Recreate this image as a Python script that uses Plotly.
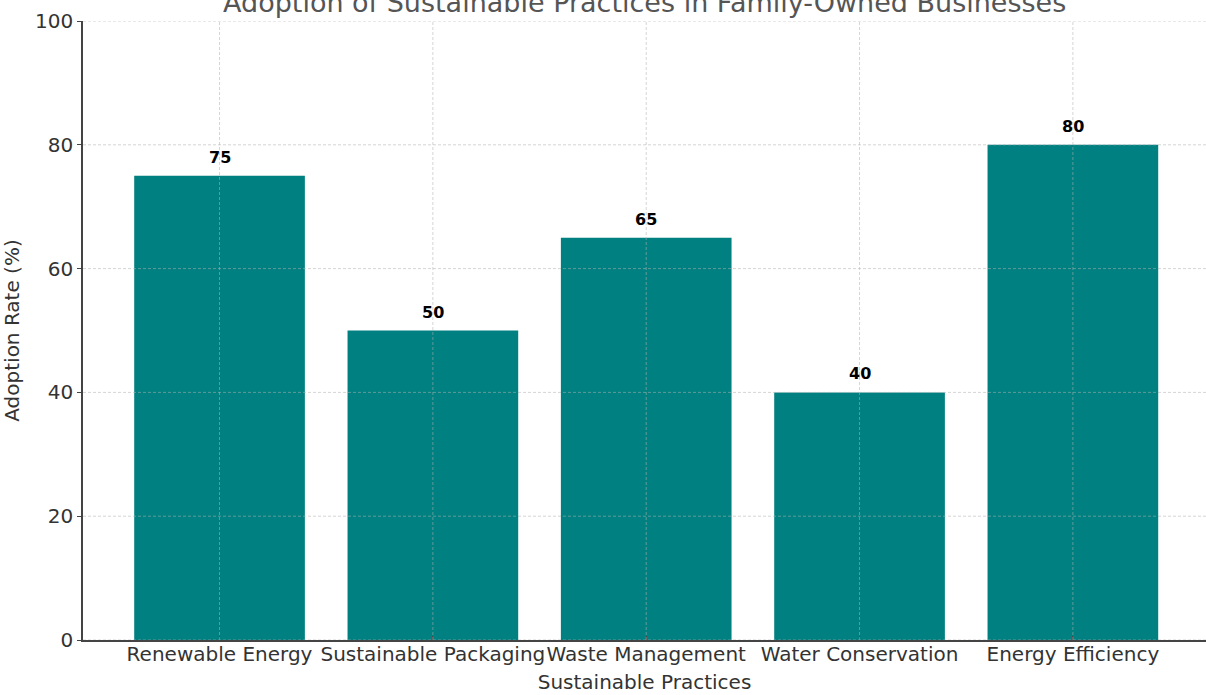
import plotly.graph_objects as go

categories = ["Renewable Energy", "Sustainable Packaging", "Waste Management",
              "Water Conservation", "Energy Efficiency"]
adoption = [75, 50, 65, 40, 80]
y_ticks = [0, 20, 40, 60, 80, 100]

title_text = "Adoption of Sustainable Practices in Family-Owned Businesses"
FONT = "DejaVu Sans"
TEAL = "#008080"
GRID = "rgba(176,176,176,0.6)"
TXT = "#333333"

x_idx = list(range(len(categories)))

fig = go.Figure()
fig.add_trace(go.Bar(
    x=x_idx, y=adoption, width=0.8,
    marker=dict(color=TEAL, line=dict(width=0)),
    hoverinfo="skip",
))

shapes = []
for yv in y_ticks:
    shapes.append(dict(type="line", xref="paper", x0=0, x1=1, yref="y", y0=yv, y1=yv,
                       line=dict(color=GRID, width=0.9, dash="3px,2px"), layer="above"))
for xv in x_idx:
    shapes.append(dict(type="line", xref="x", x0=xv, x1=xv, yref="paper", y0=0, y1=1,
                       line=dict(color=GRID, width=0.9, dash="3px,2px"), layer="above"))

annotations = []
for xv, v in zip(x_idx, adoption):
    annotations.append(dict(x=xv, y=v, xref="x", yref="y", text=f"<b>{v}</b>",
                            showarrow=False, yanchor="bottom", yshift=7,
                            font=dict(family=FONT, size=16, color="black")))
annotations.append(dict(x=0.5, y=1, xref="paper", yref="paper", text=title_text,
                        showarrow=False, yanchor="bottom", yshift=1,
                        font=dict(family=FONT, size=27, color="#555555")))

fig.update_layout(
    width=1206, height=695,
    margin=dict(l=83, r=0, t=21, b=55),
    plot_bgcolor="white", paper_bgcolor="white",
    showlegend=False,
    shapes=shapes,
    annotations=annotations,
    font=dict(family=FONT, size=20, color=TXT),
    xaxis=dict(
        range=[-0.64, 4.624],
        tickmode="array", tickvals=x_idx, ticktext=categories,
        tickangle=0,
        showgrid=False, zeroline=False,
        showline=True, linecolor="#444444", linewidth=1.5,
        ticks="inside", ticklen=4, tickcolor="#444444",
        ticklabelstandoff=-5,
        tickfont=dict(family=FONT, size=20, color=TXT),
        title=dict(text="Sustainable Practices", standoff=10,
                   font=dict(family=FONT, size=20, color=TXT)),
    ),
    yaxis=dict(
        range=[0, 100],
        tickmode="array", tickvals=y_ticks,
        showgrid=False, zeroline=False,
        showline=True, linecolor="#444444", linewidth=1.5,
        ticks="outside", ticklen=4, tickcolor="#444444",
        tickfont=dict(family=FONT, size=20, color=TXT),
        title=dict(text="Adoption Rate (%)", standoff=10,
                   font=dict(family=FONT, size=20, color=TXT)),
    ),
)

fig.write_html("out.html")
